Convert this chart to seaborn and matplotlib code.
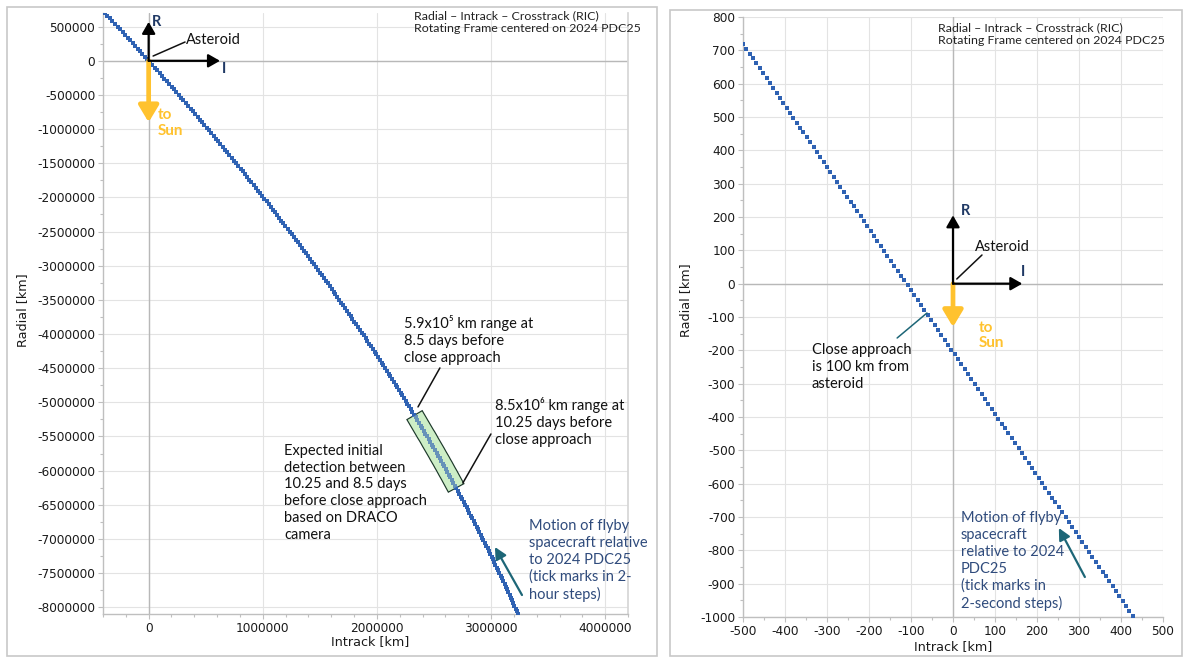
import matplotlib
matplotlib.use("Agg")
import matplotlib.pyplot as plt
from matplotlib.ticker import MultipleLocator, FuncFormatter
from matplotlib.patches import Rectangle
import seaborn as sns
import pandas as pd

# Flyby trajectory relative to 2024 PDC25 in the RIC frame, 2-hour samples (thousands of km)
far_intrack_kkm = [
    -384, -361, -339, -317, -295, -272, -250, -228, -206, -184,
    -162, -141, -119, -97, -75, -54, -32, -11, 11, 32,
    53, 75, 96, 117, 138, 159, 180, 201, 222, 243,
    264, 285, 305, 326, 347, 367, 388, 408, 429, 449,
    469, 489, 510, 530, 550, 570, 590, 610, 629, 649,
    669, 689, 708, 728, 747, 767, 786, 805, 825, 844,
    863, 882, 901, 920, 939, 958, 977, 996, 1015, 1033,
    1052, 1071, 1089, 1108, 1126, 1145, 1163, 1181, 1199, 1218,
    1236, 1254, 1272, 1290, 1308, 1325, 1343, 1361, 1379, 1396,
    1414, 1431, 1449, 1466, 1483, 1501, 1518, 1535, 1552, 1569,
    1586, 1603, 1620, 1637, 1654, 1671, 1687, 1704, 1721, 1737,
    1754, 1770, 1786, 1803, 1819, 1835, 1851, 1868, 1884, 1900,
    1916, 1931, 1947, 1963, 1979, 1994, 2010, 2026, 2041, 2057,
    2072, 2087, 2103, 2118, 2133, 2148, 2163, 2178, 2193, 2208,
    2223, 2238, 2253, 2267, 2282, 2297, 2311, 2326, 2340, 2354,
    2369, 2383, 2397, 2411, 2425, 2440, 2454, 2467, 2481, 2495,
    2509, 2523, 2536, 2550, 2564, 2577, 2591, 2604, 2617, 2631,
    2644, 2657, 2670, 2683, 2696, 2709, 2722, 2735, 2748, 2761,
    2773, 2786, 2798, 2811, 2823, 2836, 2848, 2861, 2873, 2885,
    2897, 2909, 2921, 2933, 2945, 2957, 2969, 2981, 2993, 3004,
    3016, 3027, 3039, 3050, 3062, 3073, 3084, 3096, 3107, 3118,
    3129, 3140, 3151, 3162, 3173, 3184, 3194, 3205, 3216, 3226,
    3237,
]
far_radial_kkm = [
    700, 660, 620, 580, 540, 500, 460, 420, 380, 340,
    300, 260, 220, 180, 140, 100, 60, 20, -20, -60,
    -100, -140, -180, -220, -260, -300, -340, -380, -420, -460,
    -500, -540, -580, -620, -660, -700, -740, -780, -820, -860,
    -900, -940, -980, -1020, -1060, -1100, -1140, -1180, -1220, -1260,
    -1300, -1340, -1380, -1420, -1460, -1500, -1540, -1580, -1620, -1660,
    -1700, -1740, -1780, -1820, -1860, -1900, -1940, -1980, -2020, -2060,
    -2100, -2140, -2180, -2220, -2260, -2300, -2340, -2380, -2420, -2460,
    -2500, -2540, -2580, -2620, -2660, -2700, -2740, -2780, -2820, -2860,
    -2900, -2940, -2980, -3020, -3060, -3100, -3140, -3180, -3220, -3260,
    -3300, -3340, -3380, -3420, -3460, -3500, -3540, -3580, -3620, -3660,
    -3700, -3740, -3780, -3820, -3860, -3900, -3940, -3980, -4020, -4060,
    -4100, -4140, -4180, -4220, -4260, -4300, -4340, -4380, -4420, -4460,
    -4500, -4540, -4580, -4620, -4660, -4700, -4740, -4780, -4820, -4860,
    -4900, -4940, -4980, -5020, -5060, -5100, -5140, -5180, -5220, -5260,
    -5300, -5340, -5380, -5420, -5460, -5500, -5540, -5580, -5620, -5660,
    -5700, -5740, -5780, -5820, -5860, -5900, -5940, -5980, -6020, -6060,
    -6100, -6140, -6180, -6220, -6260, -6300, -6340, -6380, -6420, -6460,
    -6500, -6540, -6580, -6620, -6660, -6700, -6740, -6780, -6820, -6860,
    -6900, -6940, -6980, -7020, -7060, -7100, -7140, -7180, -7220, -7260,
    -7300, -7340, -7380, -7420, -7460, -7500, -7540, -7580, -7620, -7660,
    -7700, -7740, -7780, -7820, -7860, -7900, -7940, -7980, -8020, -8060,
    -8100,
]

# Close-approach pass, 2-second samples (km)
near_intrack_km = [
    -500, -492, -484, -476, -468, -460, -452, -444, -436, -428,
    -420, -412, -404, -396, -388, -380, -372, -364, -356, -348,
    -340, -332, -324, -316, -308, -300, -292, -284, -276, -268,
    -260, -252, -244, -236, -228, -220, -212, -204, -196, -188,
    -180, -172, -164, -156, -148, -140, -132, -124, -116, -108,
    -100, -92, -84, -76, -68, -60, -52, -44, -36, -28,
    -20, -12, -4, 4, 12, 20, 28, 36, 44, 52,
    60, 68, 76, 84, 92, 100, 108, 116, 124, 132,
    140, 148, 156, 164, 172, 180, 188, 196, 204, 212,
    220, 228, 236, 244, 252, 260, 268, 276, 284, 292,
    300, 308, 316, 324, 332, 340, 348, 356, 364, 372,
    380, 388, 396, 404, 412, 420, 428, 436,
]
near_radial_km = [
    720.0, 705.2, 690.4, 675.6, 660.8, 646.0, 631.2, 616.4, 601.6, 586.8,
    572.0, 557.2, 542.4, 527.6, 512.8, 498.0, 483.2, 468.4, 453.6, 438.8,
    424.0, 409.2, 394.4, 379.6, 364.8, 350.0, 335.2, 320.4, 305.6, 290.8,
    276.0, 261.2, 246.4, 231.6, 216.8, 202.0, 187.2, 172.4, 157.6, 142.8,
    128.0, 113.2, 98.4, 83.6, 68.8, 54.0, 39.2, 24.4, 9.6, -5.2,
    -20.0, -34.8, -49.6, -64.4, -79.2, -94.0, -108.8, -123.6, -138.4, -153.2,
    -168.0, -182.8, -197.6, -212.4, -227.2, -242.0, -256.8, -271.6, -286.4, -301.2,
    -316.0, -330.8, -345.6, -360.4, -375.2, -390.0, -404.8, -419.6, -434.4, -449.2,
    -464.0, -478.8, -493.6, -508.4, -523.2, -538.0, -552.8, -567.6, -582.4, -597.2,
    -612.0, -626.8, -641.6, -656.4, -671.2, -686.0, -700.8, -715.6, -730.4, -745.2,
    -760.0, -774.8, -789.6, -804.4, -819.2, -834.0, -848.8, -863.6, -878.4, -893.2,
    -908.0, -922.8, -937.6, -952.4, -967.2, -982.0, -996.8, -1011.6,
]

# Samples spanned by the expected initial detection window
detect_first, detect_last = 150, 171

header = "Radial \u2013 Intrack \u2013 Crosstrack (RIC)\nRotating Frame centered on 2024 PDC25"

DOT = "#2f62b3"
NAVY = "#1f3864"
SUN = "#ffc22e"
TEAL = "#1d6677"
MOTION = "#2f4b7c"
GRID = "#e3e3e3"
AXIS = "#bfbfbf"
NOTE_FONT = ["Lato", "DejaVu Sans"]

sns.set_theme(style="white")
plt.rcParams["font.family"] = ["DejaVu Sans"]
plt.rcParams["axes.unicode_minus"] = False

fig = plt.figure(figsize=(11.83, 6.57), dpi=100)
fig.patch.set_facecolor("white")
W, H = 1183, 657
ax1 = fig.add_axes([103 / W, 43 / H, 525 / W, 601 / H])
ax2 = fig.add_axes([743 / W, 40 / H, 420 / W, 600 / H])

# panel frames
fig.add_artist(Rectangle((7 / W, 1 / H), 650 / W, 649 / H, transform=fig.transFigure,
                         fill=False, ec="#c8c8c8", lw=1.2))
fig.add_artist(Rectangle((670 / W, 1 / H), 512 / W, 646 / H, transform=fig.transFigure,
                         fill=False, ec="#c8c8c8", lw=1.2))

far = pd.DataFrame({
    "intrack": [v * 1000 for v in far_intrack_kkm],
    "radial": [v * 1000 for v in far_radial_kkm],
})
near = pd.DataFrame({"intrack": near_intrack_km, "radial": near_radial_km})

int_fmt = FuncFormatter(lambda v, p: f"{int(round(v))}")


def style_axes(ax, xlim, ylim, xmaj, xmin, ymaj, ymin, right_spine):
    ax.set_xlim(*xlim)
    ax.set_ylim(*ylim)
    ax.xaxis.set_major_locator(MultipleLocator(xmaj))
    ax.xaxis.set_minor_locator(MultipleLocator(xmin))
    ax.yaxis.set_major_locator(MultipleLocator(ymaj))
    ax.yaxis.set_minor_locator(MultipleLocator(ymin))
    ax.xaxis.set_major_formatter(int_fmt)
    ax.yaxis.set_major_formatter(int_fmt)
    ax.set_facecolor("white")
    ax.grid(True, which="major", color=GRID, lw=0.8)
    ax.set_axisbelow(True)
    ax.spines["top"].set_visible(False)
    ax.spines["right"].set_visible(right_spine)
    ax.spines["right"].set_color("#d6d6d6")
    for s in ("left", "bottom"):
        ax.spines[s].set_color(AXIS)
        ax.spines[s].set_linewidth(1.0)
    ax.tick_params(which="both", direction="out", left=True, bottom=True,
                   color=AXIS, width=0.8, labelcolor="#1a1a1a", labelsize=8.7, pad=2)
    ax.tick_params(which="major", length=3.5)
    ax.tick_params(which="minor", length=2.5)
    ax.axhline(0, color="#b8b8b8", lw=1.0, zorder=1)
    ax.axvline(0, color="#b8b8b8", lw=1.0, zorder=1)


style_axes(ax1, (-400000, 4200000), (-8100000, 700000), 1000000, 200000, 500000, 250000, True)
style_axes(ax2, (-500, 500), (-1000, 800), 100, 50, 100, 50, False)

# detection window band under the trajectory ticks
seg = far.iloc[detect_first:detect_last + 1]
ax1.plot(seg["intrack"], seg["radial"], color="#1e3a2c", lw=13.6,
         solid_capstyle="projecting", zorder=3)
ax1.plot(seg["intrack"], seg["radial"], color="#cdeec6", lw=11.8,
         solid_capstyle="projecting", zorder=4)

sns.scatterplot(data=far, x="intrack", y="radial", marker="s", s=8, color=DOT,
                linewidth=0, ax=ax1, zorder=5, legend=False)
sns.scatterplot(data=near, x="intrack", y="radial", marker="s", s=8.5, color=DOT,
                linewidth=0, ax=ax2, zorder=5, legend=False)

ax1.plot(seg["intrack"], seg["radial"], color="#cdeec6", lw=11.8, alpha=0.35,
         solid_capstyle="projecting", zorder=6)

for ax, lx, ly, rx, ry in ((ax1, 0.509, -0.046, -0.154, 0.506),
                           (ax2, 0.5, -0.05, -0.136, 0.528)):
    ax.set_xlabel("Intrack [km]", fontsize=9.2, color="#1a1a1a")
    ax.set_ylabel("Radial [km]", fontsize=9.2, color="#1a1a1a")
    ax.xaxis.set_label_coords(lx, ly)
    ax.yaxis.set_label_coords(rx, ry)
    ax.xaxis.label.set_va("center")
    ax.yaxis.label.set_va("center")


def arrow(ax, tip, color, lw, head, zorder=7, start=(0, 0)):
    ax.annotate("", xy=tip, xytext=start, xycoords="data",
                arrowprops=dict(arrowstyle=f"-|>,head_width={head[0]},head_length={head[1]}",
                                color=color, lw=lw, shrinkA=0, shrinkB=0,
                                mutation_scale=10), zorder=zorder)


def note(ax, xy, s, color="#111111", size=10.5, weight="normal", spacing=1.27):
    ax.text(*xy, s, ha="left", va="center", fontsize=size, color=color,
            fontweight=weight, family=NOTE_FONT, linespacing=spacing, zorder=8)


def leader(ax, p0, p1, color="#111111"):
    ax.plot([p0[0], p1[0]], [p0[1], p1[1]], color=color, lw=1.1, zorder=7)


# --- far-field panel -------------------------------------------------------
arrow(ax1, (0, -900000), SUN, 3.4, (0.6, 1.0), zorder=6)
arrow(ax1, (0, 570000), "black", 1.6, (0.4, 0.7))
arrow(ax1, (625000, 0), "black", 1.6, (0.4, 0.7))
note(ax1, (30000, 565000), "R", NAVY, 10.5, "bold")
note(ax1, (640000, -120000), "I", NAVY, 10.5, "bold")
note(ax1, (327000, 305000), "Asteroid", size=10.5)
leader(ax1, (39000, 70000), (319000, 275000))
note(ax1, (81000, -912000), "to\nSun", SUN, 11, "bold", 1.15)

note(ax1, (2237000, -4088000), "5.9x10\u2075 km range at\n8.5 days before\nclose approach")
leader(ax1, (2552000, -4497000), (2360000, -5068000))
note(ax1, (3034000, -5288000), "8.5x10\u2076 km range at\n10.25 days before\nclose approach")
leader(ax1, (2999000, -5464000), (2753000, -6182000))
note(ax1, (1185000, -6328000),
     "Expected initial\ndetection between\n10.25 and 8.5 days\nbefore close approach\nbased on DRACO\ncamera")
note(ax1, (3332000, -7316000),
     "Motion of flyby\nspacecraft relative\nto 2024 PDC25\n(tick marks in 2-\nhour steps)", MOTION)
arrow(ax1, (3034000, -7119000), TEAL, 1.6, (0.35, 0.7), start=(3271000, -7822000))

# --- close-approach panel --------------------------------------------------
arrow(ax2, (0, -130), SUN, 3.4, (0.6, 1.0), zorder=6)
arrow(ax2, (0, 205), "black", 1.6, (0.4, 0.7))
arrow(ax2, (165, 0), "black", 1.6, (0.4, 0.7))
note(ax2, (19, 218), "R", NAVY, 10.5, "bold")
note(ax2, (161, 35), "I", NAVY, 10.5, "bold")
note(ax2, (52, 110), "Asteroid", size=10.5)
leader(ax2, (9, 14), (69, 86))
note(ax2, (62, -155), "to\nSun", SUN, 11, "bold", 1.15)
note(ax2, (-336, -250), "Close approach\nis 100 km from\nasteroid")
leader(ax2, (-133, -163), (-62, -88), TEAL)
note(ax2, (19, -832),
     "Motion of flyby\nspacecraft\nrelative to 2024\nPDC25\n(tick marks in\n2-second steps)", MOTION)
arrow(ax2, (252, -733), TEAL, 1.6, (0.35, 0.7), start=(314, -880))

for x0, yc in ((414, 22), (938, 34.5)):
    fig.text(x0 / W, 1 - yc / H, header, ha="left", va="center", fontsize=8.9,
             color="#222222", family=NOTE_FONT, linespacing=1.2)

fig.savefig("out.png", dpi=100, facecolor="white")
